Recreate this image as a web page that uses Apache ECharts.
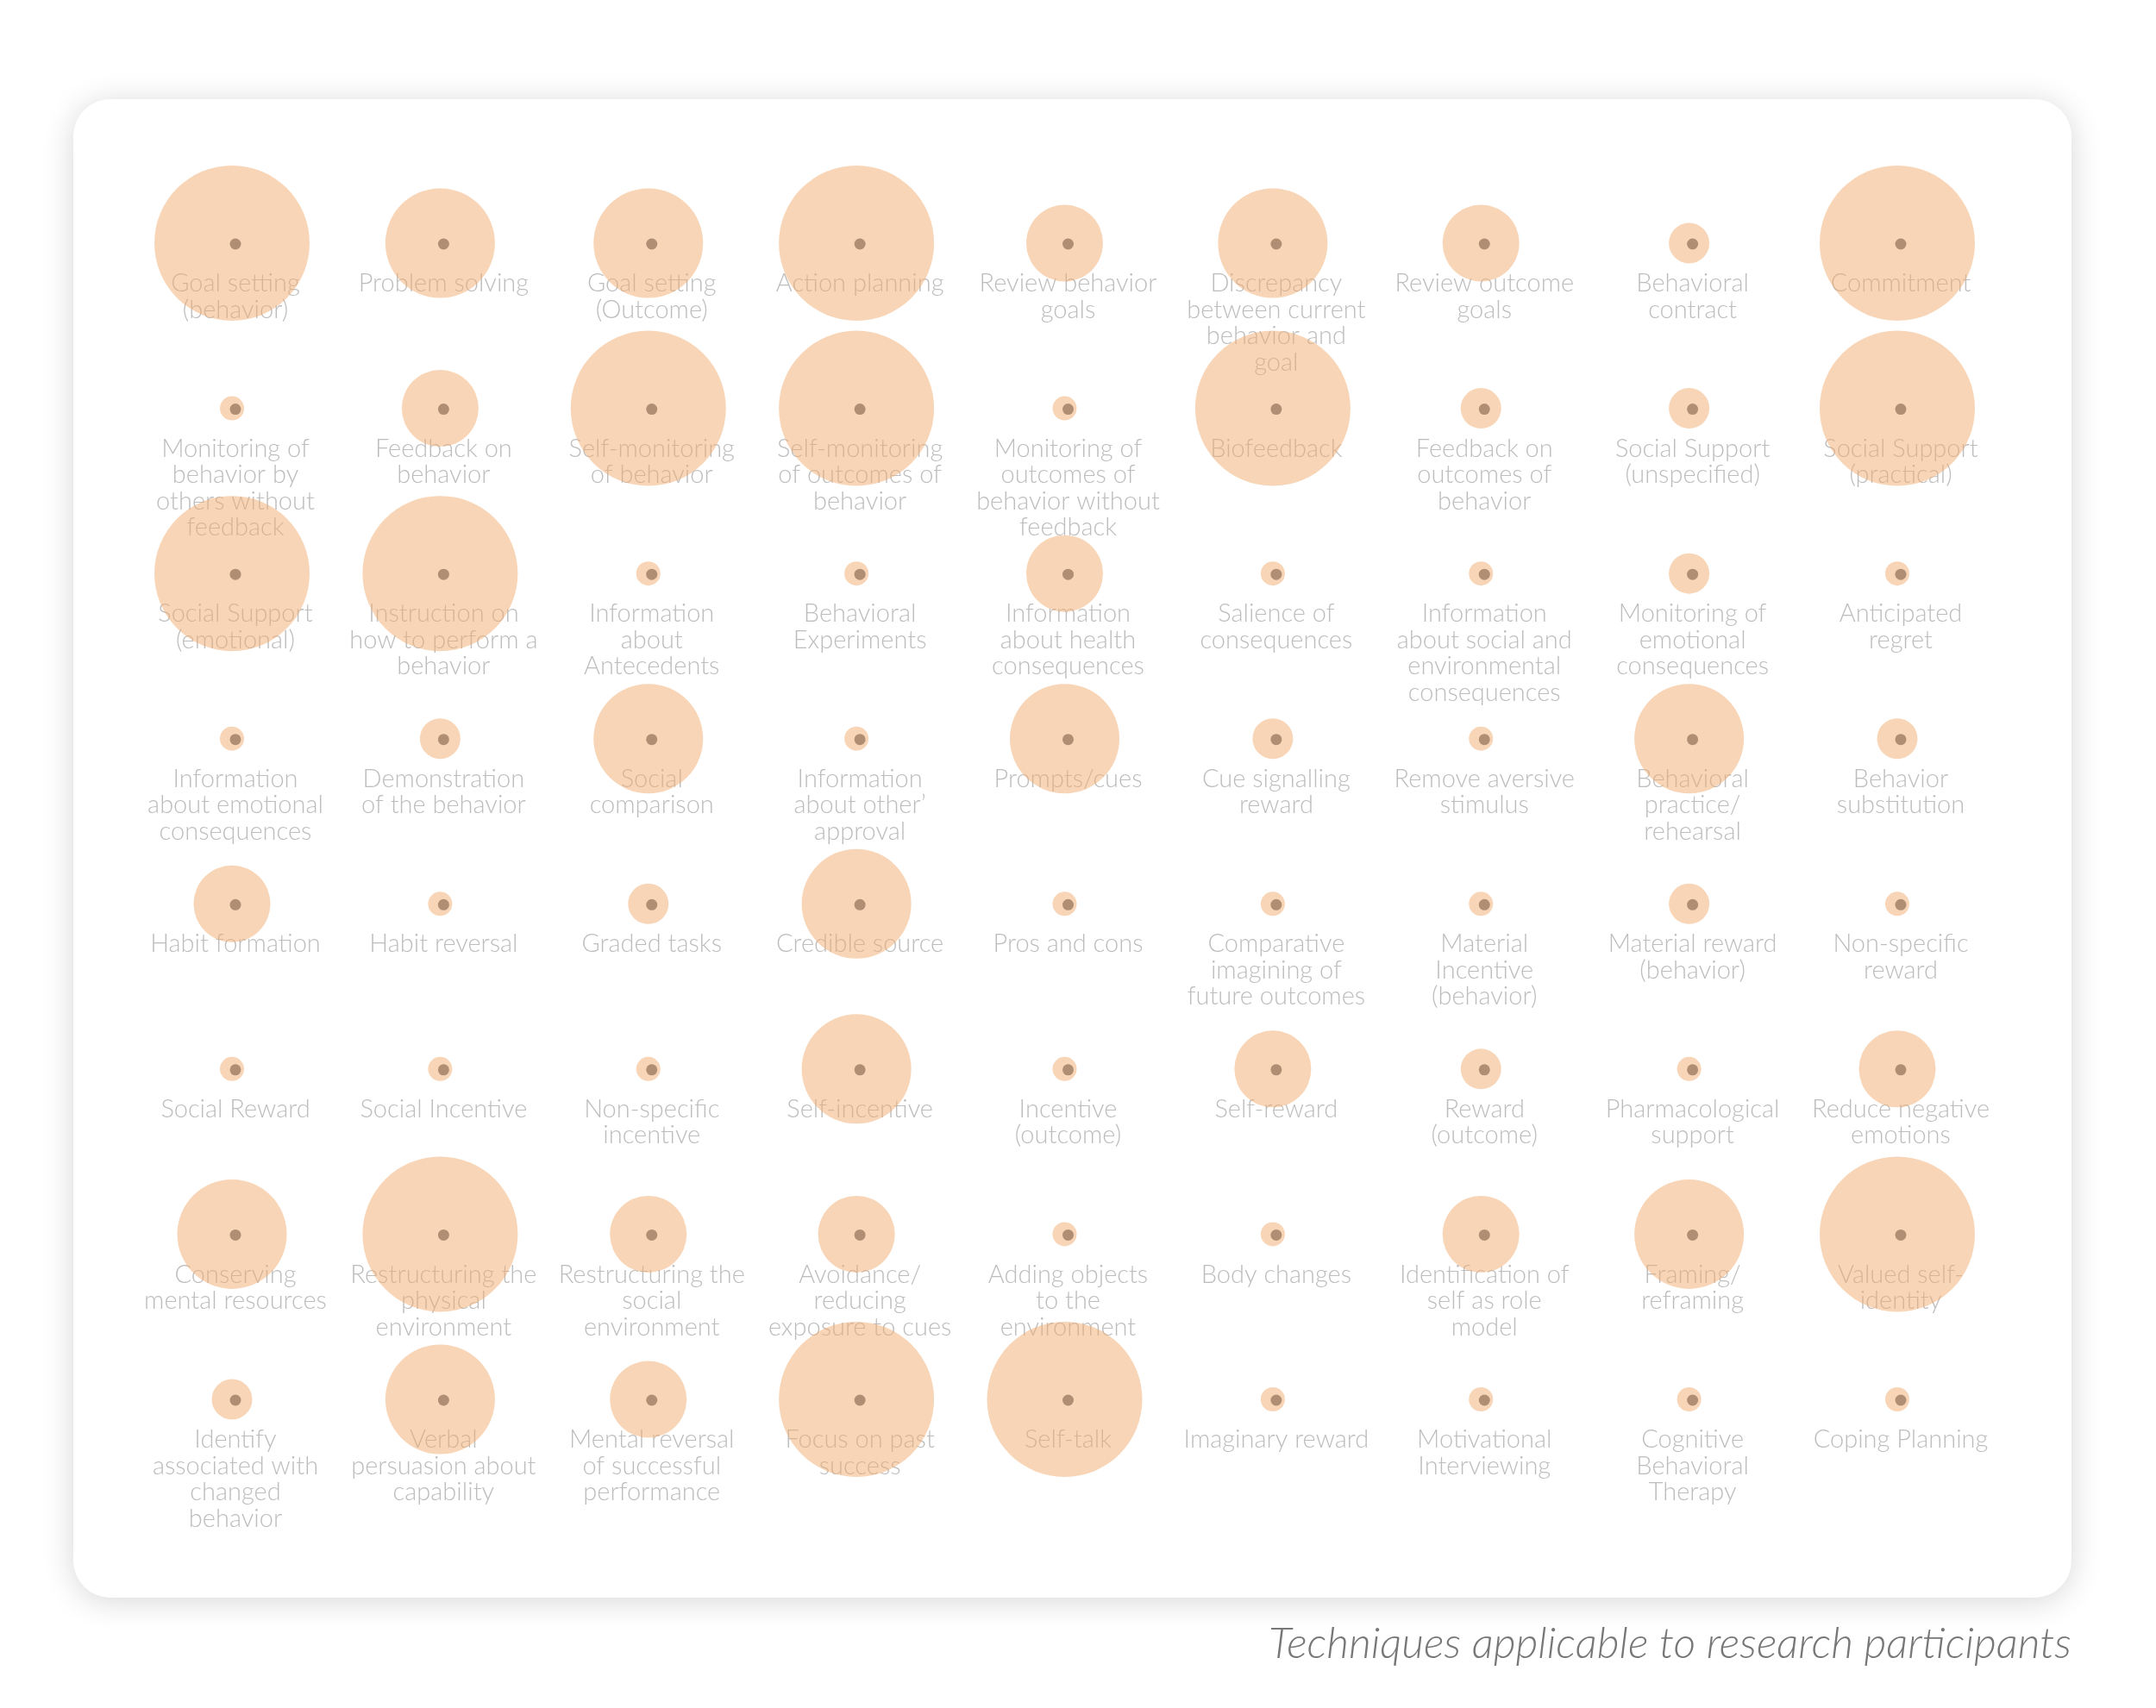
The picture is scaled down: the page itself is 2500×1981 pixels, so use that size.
<!DOCTYPE html>
<html>
<head>
<meta charset="utf-8">
<title>Techniques applicable to research participants</title>
<script src="https://cdn.jsdelivr.net/npm/echarts@6/dist/echarts.min.js"></script>
<style>
  html, body { margin: 0; padding: 0; background: #fff; }
  #chart { width: 2500px; height: 1981px; }
</style>
</head>
<body>
<div id="chart"></div>
<script>
// techniques, read left to right, top to bottom (9 per row)
const columnCount = 9;
const techniques = [
  'Goal setting\n(behavior)', 'Problem solving', 'Goal setting\n(Outcome)', 'Action planning', 'Review behavior\ngoals',
  'Discrepancy\nbetween current\nbehavior and\ngoal', 'Review outcome\ngoals', 'Behavioral\ncontract', 'Commitment',

  'Monitoring of\nbehavior by\nothers without\nfeedback', 'Feedback on\nbehavior', 'Self-monitoring\nof behavior',
  'Self-monitoring\nof outcomes of\nbehavior', 'Monitoring of\noutcomes of\nbehavior without\nfeedback', 'Biofeedback',
  'Feedback on\noutcomes of\nbehavior', 'Social Support\n(unspecified)', 'Social Support\n(practical)',

  'Social Support\n(emotional)', 'Instruction on\nhow to perform a\nbehavior', 'Information\nabout\nAntecedents',
  'Behavioral\nExperiments', 'Information\nabout health\nconsequences', 'Salience of\nconsequences',
  'Information\nabout social and\nenvironmental\nconsequences', 'Monitoring of\nemotional\nconsequences', 'Anticipated\nregret',

  'Information\nabout emotional\nconsequences', 'Demonstration\nof the behavior', 'Social\ncomparison',
  'Information\nabout other\u2019\napproval', 'Prompts/cues', 'Cue signalling\nreward', 'Remove aversive\nstimulus',
  'Behavioral\npractice/\nrehearsal', 'Behavior\nsubstitution',

  'Habit formation', 'Habit reversal', 'Graded tasks', 'Credible source', 'Pros and cons',
  'Comparative\nimagining of\nfuture outcomes', 'Material\nIncentive\n(behavior)', 'Material reward\n(behavior)', 'Non-specific\nreward',

  'Social Reward', 'Social Incentive', 'Non-specific\nincentive', 'Self-incentive', 'Incentive\n(outcome)',
  'Self-reward', 'Reward\n(outcome)', 'Pharmacological\nsupport', 'Reduce negative\nemotions',

  'Conserving\nmental resources', 'Restructuring the\nphysical\nenvironment', 'Restructuring the\nsocial\nenvironment',
  'Avoidance/\nreducing\nexposure to cues', 'Adding objects\nto the\nenvironment', 'Body changes',
  'Identification of\nself as role\nmodel', 'Framing/\nreframing', 'Valued self-\nidentity',

  'Identify\nassociated with\nchanged\nbehavior', 'Verbal\npersuasion about\ncapability', 'Mental reversal\nof successful\nperformance',
  'Focus on past\nsuccess', 'Self-talk', 'Imaginary reward', 'Motivational\nInterviewing', 'Cognitive\nBehavioral\nTherapy', 'Coping Planning'
];

// applicability level (1 = lowest, 5 = highest), same order as techniques
const levels = [
  5, 4, 4, 5, 3, 4, 3, 2, 5,
  1, 3, 5, 5, 1, 5, 2, 2, 5,
  5, 5, 1, 1, 3, 1, 1, 2, 1,
  1, 2, 4, 1, 4, 2, 1, 4, 2,
  3, 1, 2, 4, 1, 1, 1, 2, 1,
  1, 1, 1, 4, 1, 3, 2, 1, 3,
  4, 5, 3, 3, 1, 1, 3, 4, 5,
  2, 4, 3, 5, 5, 1, 1, 1, 1
];

const chart = echarts.init(document.getElementById('chart'));

// diameter in px for each level
const levelSize = [28, 47, 89, 127, 180];

const dotData = techniques.map((name, i) => [i % columnCount, Math.floor(i / columnCount), name]);
const circleData = levels.map((lv, i) => [i % columnCount, Math.floor(i / columnCount), lv]);
const rowCount = Math.ceil(techniques.length / columnCount);

const option = {
  backgroundColor: '#ffffff',
  animation: false,
  title: {
    text: 'Techniques applicable to research participants',
    right: 93,
    top: 1877,
    textStyle: {
      fontFamily: 'Lato',
      fontStyle: 'italic',
      fontWeight: 300,
      fontSize: 50,
      color: '#777777'
    }
  },
  graphic: [
    {
      type: 'rect',
      z: -10,
      silent: true,
      shape: { x: 85, y: 115, width: 2317, height: 1738, r: 43 },
      style: {
        fill: '#ffffff',
        shadowBlur: 36,
        shadowOffsetY: 4,
        shadowColor: 'rgba(0, 0, 0, 0.16)'
      }
    }
  ],
  grid: {
    left: 273,
    right: 296,
    top: 283,
    bottom: 357
  },
  xAxis: {
    type: 'value',
    min: 0,
    max: columnCount - 1,
    show: false
  },
  yAxis: {
    type: 'value',
    min: 0,
    max: rowCount - 1,
    inverse: true,
    show: false
  },
  series: [
    {
      name: 'dots',
      type: 'scatter',
      z: 2,
      silent: true,
      data: dotData,
      symbol: 'circle',
      symbolSize: 13,
      itemStyle: { color: '#4b4e57' },
      label: {
        show: true,
        position: 'bottom',
        distance: 24,
        formatter: p => p.value[2],
        fontFamily: 'Lato',
        fontWeight: 300,
        fontSize: 29,
        lineHeight: 30.5,
        align: 'center',
        color: '#adadad'
      }
    },
    {
      name: 'circles',
      type: 'scatter',
      z: 3,
      silent: true,
      data: circleData,
      symbol: 'circle',
      symbolSize: v => levelSize[v[2] - 1],
      symbolOffset: [-4, -1],
      itemStyle: { color: '#f2ac6e', opacity: 0.5 }
    }
  ]
};

chart.setOption(option);
</script>
</body>
</html>
